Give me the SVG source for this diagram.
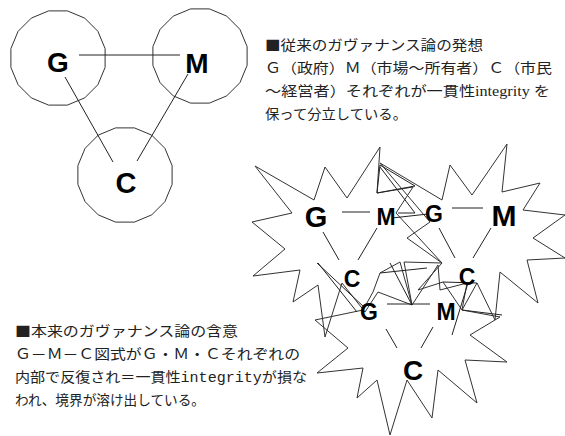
<svg xmlns="http://www.w3.org/2000/svg" width="565" height="436" viewBox="0 0 565 436">
<style>
.ol{fill:none;stroke:#333;stroke-width:1}
.st{fill:none;stroke:#333;stroke-width:1;stroke-linejoin:miter}
.ln{stroke:#222;stroke-width:1;fill:none}
.lt{font-family:"Liberation Sans",Arial,sans-serif;font-weight:bold;fill:#000;text-anchor:middle}
.jp{font-family:"Noto Sans CJK JP","Noto Sans",sans-serif;font-size:14px;fill:#222}
</style>
<defs>
<polygon id="ring" points="47.1,9.4 39.9,26.7 26.7,39.9 9.4,47.1 -9.4,47.1 -26.7,39.9 -39.9,26.7 -47.1,9.4 -47.1,-9.4 -39.9,-26.7 -26.7,-39.9 -9.4,-47.1 9.4,-47.1 26.7,-39.9 39.9,-26.7 47.1,-9.4"/>
</defs>
<rect width="565" height="436" fill="#fff"/>

<g id="top-G"><use href="#ring" x="58" y="58" class="ol"/></g>
<g id="top-M"><use href="#ring" x="200" y="56" class="ol"/></g>
<g id="top-C"><use href="#ring" x="125" y="175" class="ol"/></g>

<g id="connectors-top" class="ln">
<line x1="79" y1="55" x2="180" y2="55"/>
<line x1="65" y1="77" x2="113" y2="162"/>
<line x1="188" y1="74" x2="137" y2="161"/>
</g>
<g id="top-labels">
<text class="lt" x="58" y="72" font-size="28">G</text>
<text class="lt" x="197" y="73" font-size="28">M</text>
<text class="lt" x="126" y="193" font-size="29">C</text>
</g>

<g id="burst-S1"><polygon class="st" points="255,166 314,200 325,167 347,198 380,147 377,193 413,187 396,213 442,263 404,262 412,305 378,292 365,312 342,283 325,337 318,285 293,302 300,270 253,276 285,249 252,222 292,213"/></g>
<g id="burst-S2"><polygon class="st" points="507,144 502,192 540,183 523,210 565,215 533,238 565,258 527,260 538,303 500,272 495,320 477,283 462,310 443,282 418,290 442,263 407,238 430,222 380,163 442,200 450,165 472,195"/></g>
<g id="burst-S3"><polygon class="st" points="390,435 407,380 432,418 438,370 477,403 465,360 507,362 470,335 500,317 462,310 467,283 440,290 438,265 412,305 400,262 380,273 373,292 363,310 315,320 348,348 317,373 363,368 357,398 377,380"/></g>

<g id="tangle" class="ln" stroke="#333">
<polygon points="380,165 415,186 377,193" fill="none"/>
<polyline points="380,167 415,213 398,213"/>
<line x1="392" y1="218" x2="428" y2="214"/>
<line x1="318" y1="263" x2="357" y2="312"/>
<line x1="317" y1="263" x2="365" y2="308"/>
<line x1="390" y1="263" x2="412" y2="305"/>
<line x1="380" y1="273" x2="427" y2="268"/>
<line x1="443" y1="282" x2="477" y2="283"/>
<line x1="462" y1="310" x2="502" y2="315"/>
<line x1="452" y1="335" x2="468" y2="283"/>
</g>

<g id="connectors-bursts" class="ln">
<line x1="342" y1="212" x2="370" y2="212"/>
<line x1="323" y1="232" x2="339" y2="260"/>
<line x1="377" y1="228" x2="358" y2="260"/>
<line x1="452" y1="208" x2="483" y2="208"/>
<line x1="439" y1="228" x2="455" y2="258"/>
<line x1="491" y1="228" x2="473" y2="258"/>
<line x1="387" y1="304" x2="430" y2="304"/>
<line x1="386" y1="329" x2="397" y2="348"/>
<line x1="433" y1="327" x2="421" y2="348"/>
</g>

<g id="burst-labels">
<text class="lt" x="316" y="227" font-size="29">G</text>
<text class="lt" x="386" y="225" font-size="23">M</text>
<text class="lt" x="352" y="287" font-size="23">C</text>
<text class="lt" x="434" y="222" font-size="23">G</text>
<text class="lt" x="504" y="226" font-size="30">M</text>
<text class="lt" x="467" y="285" font-size="23">C</text>
<text class="lt" x="369" y="320" font-size="23">G</text>
<text class="lt" x="446" y="320" font-size="23">M</text>
<text class="lt" x="413" y="380" font-size="28">C</text>
</g>

<g id="text-top" class="jp">
<text x="265" y="50" textLength="218" lengthAdjust="spacingAndGlyphs">■従来のガヴァナンス論の発想</text>
<text x="265" y="73" textLength="287" lengthAdjust="spacingAndGlyphs">Ｇ（政府）Ｍ（市場～所有者）Ｃ（市民</text>
<text x="265" y="96" textLength="285" lengthAdjust="spacingAndGlyphs">～経営者）それぞれが一貫性<tspan font-family="'Liberation Serif',serif">integrity </tspan>を</text>
<text x="265" y="119" textLength="142" lengthAdjust="spacingAndGlyphs">保って分立している。</text>
</g>

<g id="text-bottom" class="jp">
<text x="15" y="336" textLength="223" lengthAdjust="spacingAndGlyphs">■本来のガヴァナンス論の含意</text>
<text x="15" y="359" textLength="285" lengthAdjust="spacingAndGlyphs">Ｇ－Ｍ－Ｃ図式がＧ・Ｍ・Ｃそれぞれの</text>
<text x="15" y="382" textLength="292" lengthAdjust="spacingAndGlyphs">内部で反復され＝一貫性<tspan font-family="'Liberation Mono',monospace">integrity</tspan>が損な</text>
<text x="15" y="405" textLength="190" lengthAdjust="spacingAndGlyphs">われ、境界が溶け出している。</text>
</g>
</svg>
